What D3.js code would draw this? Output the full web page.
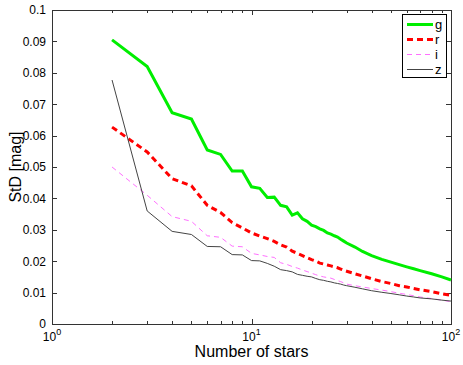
<!DOCTYPE html>
<html>
<head>
<meta charset="utf-8">
<script src="https://cdn.jsdelivr.net/npm/d3@7"></script>
<style>
  body { margin: 0; background: #fff; }
  svg { display: block; font-family: "Liberation Sans", Arial, Helvetica, sans-serif; }
  .axis path, .axis line { stroke: #333; shape-rendering: crispEdges; }
  .axis text { fill: #000; font-size: 12px; }
</style>
</head>
<body>
<div id="chart"></div>
<script>
// data
var nStars = [2,3,4,5,6,7,8,9,10,11,12,13,14,15,16,17,18,19,20,21,22,23,24,25,26,27,28,29,30,
	33,36,40,45,50,55,60,65,70,80,90,100];

var gStd = [0.0905,0.0820,0.0673,0.0653,0.0554,0.0540,0.0487,0.0487,0.0437,0.0432,0.0403,0.0404,0.0378,0.0373,
	0.0347,0.0354,0.0335,0.0327,0.0315,0.0310,0.0303,0.0298,0.0290,0.0286,0.0281,0.0277,0.0270,0.0264,0.0258,
	0.0245,0.0231,0.0218,0.0206,0.0197,0.0189,0.0182,0.0176,0.0170,0.0160,0.0150,0.0140];

var rStd = [0.0627,0.0548,0.0463,0.0440,0.0378,0.0355,0.0323,0.0306,0.0290,0.0280,0.0272,0.0263,0.0252,0.0245,
	0.0232,0.0225,0.0218,0.0211,0.0205,0.0200,0.0194,0.0191,0.0188,0.0185,0.0182,0.0179,0.0175,0.0171,0.0168,
	0.0160,0.0153,0.0144,0.0135,0.0129,0.0122,0.0118,0.0113,0.0109,0.0103,0.0096,0.0091];

var iStd = [0.0500,0.0410,0.0342,0.0327,0.0281,0.0276,0.0248,0.0246,0.0225,0.0220,0.0215,0.0212,0.0195,0.0190,
	0.0183,0.0178,0.0172,0.0167,0.0162,0.0157,0.0153,0.0150,0.0148,0.0146,0.0142,0.0138,0.0135,0.0131,0.0127,
	0.0122,0.0118,0.0113,0.0108,0.0103,0.0098,0.0094,0.0090,0.0086,0.0081,0.0076,0.0071];

var zStd = [0.0777,0.0360,0.0295,0.0285,0.0247,0.0246,0.0221,0.0220,0.0202,0.0201,0.0193,0.0184,0.0173,0.0170,
	0.0166,0.0158,0.0155,0.0152,0.0150,0.0145,0.0141,0.0139,0.0136,0.0134,0.0131,0.0129,0.0127,0.0124,0.0122,
	0.0117,0.0112,0.0106,0.0101,0.0097,0.0093,0.0089,0.0086,0.0083,0.0080,0.0076,0.0073];

var bandNames = ["g", "r", "i", "z"];
var yTicks = [0,0.01,0.02,0.03,0.04,0.05,0.06,0.07,0.08,0.09,0.1];
var yTickLabels = ["0","0.01","0.02","0.03","0.04","0.05","0.06","0.07","0.08","0.09","0.1"];
var xMajor = [1, 10, 100];
var xExponents = ["0", "1", "2"];

// magic numbers
var margin = {top: 10, right: 12, bottom: 41, left: 52},
	width = 463 - margin.left - margin.right,
	height = 365 - margin.top - margin.bottom;

var svg = d3.select("#chart").append("svg")
		.attr("width", width + margin.left + margin.right)
		.attr("height", height + margin.top + margin.bottom)
	.append("g")
		.attr("transform", "translate(" + margin.left + "," + margin.top + ")");

var x = d3.scaleLog().domain([1, 100]).range([0, width]);
var y = d3.scaleLinear().domain([0, 0.1]).range([height, 0]);

var minorTicks = x.ticks().filter(function(d){ return xMajor.indexOf(d) < 0; });

// box
svg.append("rect")
	.attr("width", width).attr("height", height)
	.attr("fill", "none").attr("stroke", "#333")
	.attr("shape-rendering", "crispEdges");

// y axes
svg.append("g").attr("class", "axis")
	.call(d3.axisLeft(y).tickValues(yTicks).tickSizeInner(-5).tickSizeOuter(0).tickPadding(6)
		.tickFormat(function(d, i){ return yTickLabels[i]; }));

svg.append("g").attr("class", "axis")
	.attr("transform", "translate(" + width + ",0)")
	.call(d3.axisRight(y).tickValues(yTicks).tickSizeInner(-5).tickSizeOuter(0).tickFormat(""));

// x axes, minor + major ticks
svg.append("g").attr("class", "axis")
	.attr("transform", "translate(0," + height + ")")
	.call(d3.axisBottom(x).tickValues(minorTicks).tickSizeInner(-3).tickSizeOuter(0).tickFormat(""));
svg.append("g").attr("class", "axis")
	.attr("transform", "translate(0," + height + ")")
	.call(d3.axisBottom(x).tickValues(xMajor).tickSizeInner(-5).tickSizeOuter(0).tickFormat(""));
svg.append("g").attr("class", "axis")
	.call(d3.axisTop(x).tickValues(minorTicks).tickSizeInner(-3).tickSizeOuter(0).tickFormat(""));
svg.append("g").attr("class", "axis")
	.call(d3.axisTop(x).tickValues(xMajor).tickSizeInner(-5).tickSizeOuter(0).tickFormat(""));

// x tick labels as 10^n
var xl = svg.selectAll(".xlab").data(xMajor).enter().append("text")
	.attr("class", "xlab")
	.attr("x", function(d){ return x(d); })
	.attr("y", height + 17)
	.attr("text-anchor", "middle")
	.attr("font-size", "12px");
xl.append("tspan").text("10");
xl.append("tspan").attr("dy", -6).attr("font-size", "9px").text(function(d, i){ return xExponents[i]; });

svg.selectAll(".domain").remove();

// lines
var series = [
	{name: bandNames[0], values: gStd, color: "#00ee00", width: 3, dash: null},
	{name: bandNames[1], values: rStd, color: "#ff0000", width: 3, dash: "6,4"},
	{name: bandNames[2], values: iStd, color: "#ff70ff", width: 1, dash: "5,4"},
	{name: bandNames[3], values: zStd, color: "#444444", width: 1, dash: null}
];

var line = d3.line()
	.x(function(d){ return x(d[0]); })
	.y(function(d){ return y(d[1]); });

svg.selectAll(".band-line").data(series).enter().append("path")
	.attr("class", "band-line")
	.attr("fill", "none")
	.attr("stroke", function(d){ return d.color; })
	.attr("stroke-width", function(d){ return d.width; })
	.attr("stroke-dasharray", function(d){ return d.dash; })
	.attr("d", function(d){ return line(d3.zip(nStars, d.values)); });

// legend
var legend = svg.append("g").attr("transform", "translate(" + (width - 49) + ",4)");
legend.append("rect")
	.attr("width", 44).attr("height", 63)
	.attr("fill", "#fff").attr("stroke", "#000")
	.attr("shape-rendering", "crispEdges");
var item = legend.selectAll(".item").data(series).enter().append("g")
	.attr("class", "item")
	.attr("transform", function(d, i){ return "translate(0," + (10.5 + i * 15) + ")"; });
item.append("line")
	.attr("x1", 5).attr("x2", 31)
	.attr("stroke", function(d){ return d.color; })
	.attr("stroke-width", function(d){ return d.width; })
	.attr("stroke-dasharray", function(d){ return d.dash; });
item.append("text")
	.attr("x", 33).attr("dy", "0.35em")
	.attr("font-size", "13px")
	.text(function(d){ return d.name; });

// axis titles
svg.append("text")
	.attr("x", width / 2).attr("y", height + 33)
	.attr("text-anchor", "middle").attr("font-size", "16px")
	.text("Number of stars");

svg.append("text")
	.attr("transform", "translate(-31," + (height / 2) + ") rotate(-90)")
	.attr("text-anchor", "middle").attr("font-size", "16px")
	.text("StD [mag]");
</script>
</body>
</html>
